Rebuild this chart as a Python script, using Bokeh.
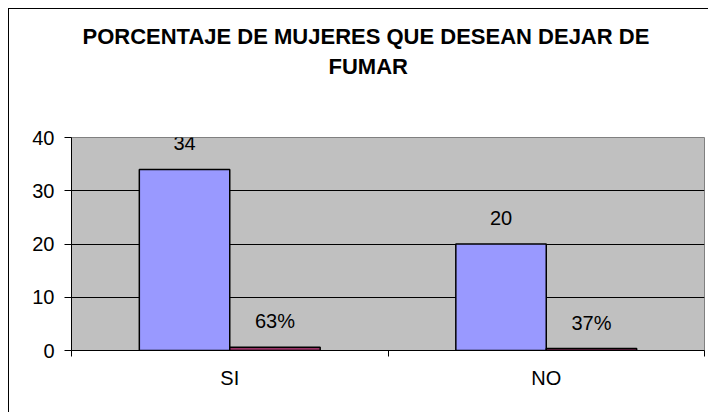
from bokeh.plotting import figure
from bokeh.models import FixedTicker, Title, Range1d
from bokeh.core.properties import value
from bokeh.embed import file_html
from bokeh.resources import INLINE

# ---- data ----
categories = ["SI", "NO"]
counts = [34, 20]
shares = [0.63, 0.37]
count_labels = ["34", "20"]
share_labels = ["63%", "37%"]
title_lines = ["PORCENTAJE DE MUJERES QUE DESEAN DEJAR DE", "FUMAR"]
y_ticks = [0, 10, 20, 30, 40]

FONT = "Liberation Sans"
gap = 1.5
bw = 1.0 / (2 + gap)
centers = [i + 0.5 for i in range(len(categories))]
bounds = [float(i) for i in range(len(categories) + 1)]
x1 = [c - bw / 2 for c in centers]
x2 = [c + bw / 2 for c in centers]

p = figure(width=700, height=404, output_backend="svg", toolbar_location=None,
           title=None,
           x_range=Range1d(0, len(categories)), y_range=Range1d(0, 40),
           min_border_left=62, min_border_right=5, min_border_top=128,
           min_border_bottom=63)
p.styles = {"margin-left": "8px", "margin-top": "8px",
            "border-left": "1px solid black", "border-top": "1px solid black"}

p.background_fill_color = "#C0C0C0"
p.border_fill_color = "white"
p.outline_line_color = "#808080"

# title: spacer nearest the frame, then the two lines stacked upward
p.add_layout(Title(text=" ", text_font_size="10px", standoff=46), "above")
p.add_layout(Title(text=title_lines[1], align="left", offset=257, standoff=0,
                   text_font=FONT, text_font_size="22px", text_font_style="bold",
                   text_color="black"), "above")
p.add_layout(Title(text=title_lines[0], align="left", offset=11, standoff=6,
                   text_font=FONT, text_font_size="22px", text_font_style="bold",
                   text_color="black"), "above")

p.vbar(x=x1, top=counts, width=bw, fill_color="#9999FF", line_color="black", line_width=1.5)
p.vbar(x=x2, top=shares, width=bw, fill_color="#993366", line_color="black", line_width=1.5)

p.text(x=x1, y=counts, text=count_labels, y_offset=-26, text_align="center",
       text_baseline="middle", text_font=value(FONT), text_font_size="20px", text_color="black")
p.text(x=x2, y=shares, text=share_labels, y_offset=-26, text_align="center",
       text_baseline="middle", text_font=value(FONT), text_font_size="20px", text_color="black")

# y axis
p.yaxis.ticker = FixedTicker(ticks=y_ticks)
p.yaxis.major_tick_out = 7
p.yaxis.major_tick_in = 0
p.yaxis.minor_tick_line_color = None
p.yaxis.axis_line_color = "black"
p.yaxis.major_tick_line_color = "black"
p.yaxis.major_label_text_font = FONT
p.yaxis.major_label_text_font_size = "20px"
p.yaxis.major_label_text_color = "black"
p.yaxis.major_label_standoff = 10

# x axis
p.xaxis.ticker = FixedTicker(ticks=centers, minor_ticks=bounds)
p.xaxis.major_label_overrides = {c: lab for c, lab in zip(centers, categories)}
p.xaxis.major_tick_line_color = None
p.xaxis.major_tick_out = 0
p.xaxis.major_tick_in = 0
p.xaxis.minor_tick_out = 6
p.xaxis.minor_tick_in = 0
p.xaxis.minor_tick_line_color = "black"
p.xaxis.axis_line_color = "black"
p.xaxis.major_label_text_font = FONT
p.xaxis.major_label_text_font_size = "20px"
p.xaxis.major_label_text_color = "black"
p.xaxis.major_label_standoff = 10

p.xgrid.visible = False
p.ygrid.grid_line_color = "black"
p.ygrid.grid_line_width = 1

open("out.html", "w").write(file_html(p, INLINE))
